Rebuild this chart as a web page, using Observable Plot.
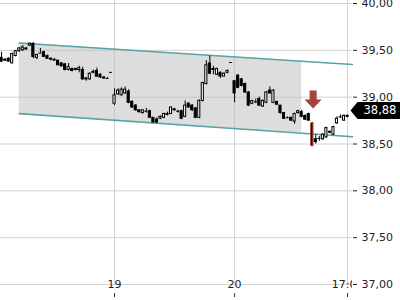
<!DOCTYPE html>
<html>
<head>
<meta charset="utf-8">
<script src="https://cdn.jsdelivr.net/npm/d3@7"></script>
<script src="https://cdn.jsdelivr.net/npm/@observablehq/plot@0.6"></script>
<style>
  html, body { margin: 0; padding: 0; background: #fff; }
  #chart { width: 400px; height: 300px; overflow: hidden; }
</style>
</head>
<body>
<div id="chart"></div>
<script>
// ---- data (15-minute candles; slot 34 = 19th 09:00, slot 68 = 20th 09:00) ----
const slots = [2,3,4,5,6,7,8,9,10,11,12,13,14,15,16,17,18,19,20,21,22,23,24,25,26,27,28,29,30,31,32,33,
  34,35,36,37,38,39,40,41,42,43,44,45,46,47,48,49,50,51,52,53,54,55,56,57,58,59,60,61,62,63,64,65,66,67,
  68,69,70,71,72,73,74,75,76,77,78,79,80,81,82,83,84,85,86,87,88,89,90,91,92,93,94,95,96,97,98,99,100];
const opens = [39.42,39.39,39.41,39.36,39.44,39.49,39.50,39.52,39.55,39.57,39.42,39.47,39.48,39.44,39.41,39.40,39.39,39.36,39.35,39.29,39.30,39.30,39.29,39.29,39.19,39.19,39.26,39.28,39.24,39.21,39.20,39.265,
  38.93,39.03,39.02,39.04,39.06,38.95,38.91,38.86,38.83,38.85,38.85,38.78,38.76,38.77,38.78,38.81,38.82,38.87,38.85,38.85,38.79,38.93,38.91,38.88,38.78,38.96,39.14,39.36,39.30,39.24,39.26,39.22,39.26,39.37,
  39.17,39.23,39.19,39.14,39.05,38.93,38.95,38.98,38.90,38.94,39.07,38.94,38.95,38.91,38.83,38.78,38.78,38.74,38.83,38.84,38.80,38.82,38.72,38.55,38.56,38.55,38.57,38.63,38.60,38.72,38.79,38.75,38.80];
const highs = [39.48,39.41,39.42,39.47,39.50,39.53,39.55,39.53,39.58,39.58,39.46,39.52,39.49,39.45,39.42,39.41,39.39,39.37,39.36,39.36,39.31,39.31,39.33,39.32,39.21,39.26,39.29,39.31,39.25,39.22,39.21,39.265,
  39.09,39.09,39.10,39.11,39.08,38.96,38.92,38.86,38.86,38.88,38.86,38.78,38.78,38.80,38.83,38.84,38.89,38.88,38.86,38.86,38.96,38.94,38.92,38.89,38.97,39.16,39.39,39.44,39.33,39.31,39.27,39.26,39.29,39.37,
  39.18,39.24,39.20,39.15,39.06,38.96,38.98,39.00,38.97,39.06,39.11,39.08,38.95,38.91,38.83,38.79,38.78,38.83,38.86,38.86,38.81,38.83,38.73,38.60,38.58,38.61,38.68,38.64,38.69,38.79,38.81,38.81,38.81];
const lows = [39.37,39.38,39.37,39.36,39.43,39.48,39.49,39.50,39.54,39.41,39.40,39.47,39.43,39.41,39.39,39.39,39.34,39.32,39.28,39.28,39.27,39.28,39.26,39.18,39.17,39.18,39.25,39.21,39.20,39.19,39.19,39.265,
  38.91,39.02,39.01,39.03,38.93,38.88,38.85,38.83,38.82,38.83,38.78,38.72,38.72,38.76,38.77,38.80,38.82,38.85,38.83,38.76,38.78,38.88,38.85,38.77,38.77,38.95,39.13,39.24,39.24,39.23,39.20,39.22,39.25,39.37,
  38.94,39.09,39.11,39.04,38.90,38.92,38.93,38.90,38.89,38.93,39.03,38.93,38.91,38.82,38.76,38.77,38.74,38.71,38.82,38.78,38.75,38.74,38.47,38.50,38.53,38.54,38.56,38.61,38.59,38.71,38.77,38.74,38.78];
const closes = [39.38,39.40,39.38,39.46,39.49,39.52,39.53,39.51,39.57,39.43,39.45,39.47,39.43,39.41,39.40,39.39,39.34,39.33,39.29,39.32,39.28,39.29,39.31,39.19,39.20,39.25,39.27,39.22,39.21,39.20,39.20,39.265,
  39.02,39.07,39.08,39.08,38.94,38.89,38.86,38.84,38.86,38.85,38.78,38.73,38.73,38.79,38.82,38.82,38.89,38.86,38.85,38.77,38.91,38.89,38.86,38.78,38.96,39.15,39.34,39.25,39.29,39.30,39.22,39.25,39.28,39.37,
  39.04,39.10,39.12,39.05,38.91,38.96,38.95,38.91,38.96,39.05,39.04,39.07,38.92,38.83,38.77,38.78,38.75,38.82,38.85,38.79,38.76,38.75,38.48,38.52,38.56,38.60,38.67,38.62,38.68,38.77,38.79,38.80,38.79];

// trend channel (slot, upper, lower); shaded part ends at slot 87
const channelSlots = [7, 87, 101.4];
const channelUpper = [39.578, 39.384, 39.348];
const channelLower = [38.824, 38.615, 38.578];
const shadeEndSlot = 87;

// signal annotation
const signalSlot = 90;
const arrowPrice = 38.975;
const lastPrice = 38.88;

// axes
const xTickSlots = [34, 68, 100];
const xTickLabels = ["19", "20", "17:00"];
const yTicks = [37, 37.5, 38, 38.5, 39, 39.5, 40];

// ---- build ----
const candles = slots.map((s, k) => ({slot: s, open: opens[k], high: highs[k], low: lows[k], close: closes[k]}));
const channel = channelSlots.map((s, k) => ({slot: s, upper: channelUpper[k], lower: channelLower[k]}));
const shade = channel.filter(d => d.slot <= shadeEndSlot);
const xTicks = xTickSlots.map((s, k) => ({slot: s, label: xTickLabels[k]}));
const fmt = v => d3.format(".2f")(v).replace(".", ",");

const RED = "#a8423a";
const half = 0.3;   // half body width in slots

const arrowSymbol = {
  draw(ctx, size) {
    const r = Math.sqrt(size / Math.PI);
    const sw = 0.39 * r, hw = 0.95 * r;
    ctx.moveTo(-sw, -r);
    ctx.lineTo(sw, -r);
    ctx.lineTo(sw, 0);
    ctx.lineTo(hw, 0);
    ctx.lineTo(0, r);
    ctx.lineTo(-hw, 0);
    ctx.lineTo(-sw, 0);
    ctx.closePath();
  }
};
const tagSymbol = {
  draw(ctx, size) {
    const r = Math.sqrt(size / Math.PI);
    ctx.moveTo(-2, 0);
    ctx.lineTo(5, -r);
    ctx.lineTo(60, -r);
    ctx.lineTo(60, r);
    ctx.lineTo(5, r);
    ctx.closePath();
  }
};

const plot = Plot.plot({
  width: 400,
  height: 300,
  marginLeft: 0,
  marginRight: 48,
  marginTop: 0,
  marginBottom: 0,
  style: {fontFamily: "DejaVu Sans", fontSize: "11px", color: "#222", background: "#fff", overflow: "hidden"},
  x: {domain: [1.7, 101.4], axis: null},
  y: {domain: [37, 40], range: [284, 3], axis: null},
  marks: [
    Plot.ruleY(yTicks, {y: d => d, stroke: "#d2d2d2"}),
    Plot.ruleX(xTicks, {x: "slot", stroke: "#d2d2d2", insetBottom: 16}),
    Plot.areaY(shade, {x: "slot", y1: "lower", y2: "upper", fill: "#bcbcbc", fillOpacity: 0.5}),
    Plot.line(channel, {x: "slot", y: "upper", stroke: "#58a3a3", strokeWidth: 1.6}),
    Plot.line(channel, {x: "slot", y: "lower", stroke: "#58a3a3", strokeWidth: 1.6}),
    Plot.ruleX(candles, {x: "slot", y1: "low", y2: "high", stroke: d => d.slot === signalSlot ? RED : "#000", strokeWidth: d => d.slot === signalSlot ? 2 : 1}),
    Plot.rect(candles, {
      x1: d => d.slot - half, x2: d => d.slot + half, y1: "open", y2: "close",
      fill: d => d.close > d.open ? "#fff" : "#000",
      stroke: d => d.slot === signalSlot ? RED : "#000", strokeWidth: 1
    }),
    Plot.ruleY(candles.filter(d => d.open === d.close), {x1: d => d.slot - 0.44, x2: d => d.slot + 0.44, y: "close", stroke: "#000"}),
    Plot.dot([{slot: signalSlot, price: arrowPrice}], {x: d => d.slot + 0.25, y: "price", symbol: arrowSymbol, r: 9, fill: RED, stroke: null}),
    Plot.ruleX(xTicks, {x: "slot", stroke: "#333", insetTop: 293, insetBottom: 3}),
    Plot.text(xTicks, {x: "slot", text: "label", frameAnchor: "bottom", dy: -13, fontSize: 11, fill: "#222", clip: "frame"}),
    Plot.axisY(yTicks, {anchor: "right", tickFormat: fmt, tickSize: 4, tickPadding: 5, fontSize: 11, color: "#222"}),
    Plot.dot([lastPrice], {y: d => d, frameAnchor: "right", dy: 2, symbol: tagSymbol, r: 8.5, fill: "#000", stroke: null}),
    Plot.text([lastPrice], {y: d => d, frameAnchor: "right", dy: 2, dx: 11, text: d => fmt(d), textAnchor: "start", fill: "#fff", fontSize: 11.5})
  ]
});
document.getElementById("chart").appendChild(plot);
</script>
</body>
</html>
